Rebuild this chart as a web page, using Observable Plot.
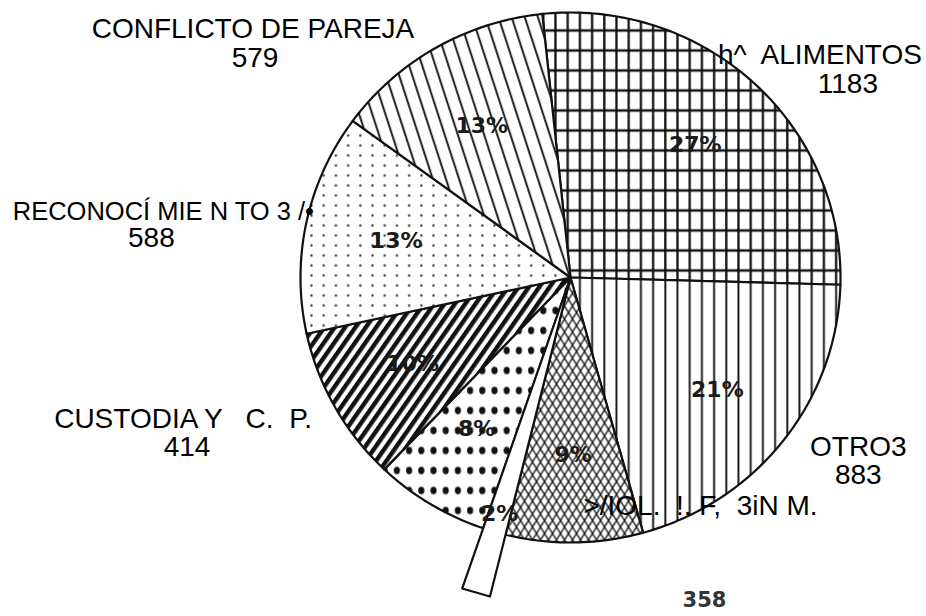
<!DOCTYPE html>
<html><head><meta charset="utf-8">
<script src="https://cdn.jsdelivr.net/npm/d3@7"></script>
<script src="https://cdn.jsdelivr.net/npm/@observablehq/plot@0.6"></script>
<style>
body{margin:0;background:#fff}
svg{display:block}
svg text{white-space:pre}
</style>
</head><body><div id="chart"></div>
<script>
// ---- data ----
const categories = ["ALIMENTOS","OTROS","VIOL. F. SIN M.","SIN ETIQUETA 2%","SIN ETIQUETA 8%","CUSTODIA Y C. P.","RECONOCIMIENTOS","CONFLICTO DE PAREJA"];
const values = [1183, 883, 358, 60, 300, 414, 588, 579];
const percentLabels = ["27%","21%","9%","2%","8%","10%","13%","13%"];
const nameLabels = ["h^  ALIMENTOS","OTRO3",">/IOL.  !. F,  3iN M.","","","CUSTODIA Y   C.  P.","RECONOCÍ MIE N TO 3 /•","CONFLICTO DE PAREJA"];
const valueLabels = ["1183","883","358","","","414","588","579"];
const patternIds = ["p-grid","p-vert","p-cross","p-white","p-bigdots","p-diag","p-smalldots","p-slant"];

// ---- layout ----
const W = 926, H = 616;
const layout = {cx: 570, cy: 277, rx: 270, ry: 265, startDeg: -6};
const outerR = [1,1,1,1.24,1,1,1,1];
const pctR = [0.68,0.69,0.67,0.93,0.67,0.67,0.66,0.66];
const nameOffset = [[66,-28],[75,6],[126,-36],null,null,[-152,12],[-143,-11],[-183,-19]];
const valueOffset = [[94,1],[75,34],[130,58],null,null,[-148,40],[-155,16],[-181,10]];
const nameSize = [28,28,28,28,28,28,25.5,28];

const start = layout.startDeg * Math.PI / 180;
const arcs = d3.pie().sort(null).value(d => d).startAngle(start).endAngle(start + 2 * Math.PI)(values);
const slices = arcs.map((a, i) => ({
  i, name: categories[i], a0: a.startAngle, a1: a.endAngle,
  mid: (a.startAngle + a.endAngle) / 2, r: outerR[i]
}));

const ordered = [...slices.filter(s => s.r <= 1), ...slices.filter(s => s.r > 1)];
const vertices = ordered.flatMap(s => {
  const pts = [{name: s.name, x: 0, y: 0}];
  const n = s.r > 1 ? 1 : Math.max(2, Math.ceil((s.a1 - s.a0) / (Math.PI / 180)));
  for (let k = 0; k <= n; k++) {
    const a = s.a0 + (s.a1 - s.a0) * k / n;
    pts.push({name: s.name, x: s.r * Math.sin(a), y: s.r * Math.cos(a)});
  }
  return pts;
});

const pctData = slices.map(s => ({
  x: pctR[s.i] * Math.sin(s.mid), y: pctR[s.i] * Math.cos(s.mid), text: percentLabels[s.i]
}));
function offsetLabels(texts, offs) {
  return slices.filter(s => offs[s.i] && texts[s.i]).map(s => ({
    x: Math.sin(s.mid) + offs[s.i][0] / layout.rx,
    y: Math.cos(s.mid) - offs[s.i][1] / layout.ry,
    text: texts[s.i], size: nameSize[s.i], scan: texts[s.i] === "358"
  }));
}
const nameData = offsetLabels(nameLabels, nameOffset);
const valueData = offsetLabels(valueLabels, valueOffset);

function patternDefs() {
  const ns = "http://www.w3.org/2000/svg";
  const g = document.createElementNS(ns, "g");
  g.innerHTML = `<defs>
  <pattern id="p-grid" patternUnits="userSpaceOnUse" width="12.2" height="20">
    <rect width="12.2" height="20" fill="#fff"/>
    <path d="M6,0V20" stroke="#111" stroke-width="2.3"/>
    <path d="M0,10H12.2" stroke="#111" stroke-width="2.5"/>
  </pattern>
  <pattern id="p-vert" patternUnits="userSpaceOnUse" width="12.2" height="20">
    <rect width="12.2" height="20" fill="#fff"/>
    <path d="M6,0V20" stroke="#111" stroke-width="1.9"/>
  </pattern>
  <pattern id="p-cross" patternUnits="userSpaceOnUse" width="8" height="13">
    <rect width="8" height="13" fill="#fff"/>
    <path d="M0,0L8,13M8,0L0,13" stroke="#111" stroke-width="1.4" stroke-linecap="square"/>
  </pattern>
  <pattern id="p-white" patternUnits="userSpaceOnUse" width="10" height="10">
    <rect width="10" height="10" fill="#fff"/>
  </pattern>
  <pattern id="p-bigdots" patternUnits="userSpaceOnUse" width="12.2" height="20">
    <rect width="12.2" height="20" fill="#fff"/>
    <ellipse cx="6" cy="10" rx="3.1" ry="3.7" fill="#111"/>
  </pattern>
  <pattern id="p-diag" patternUnits="userSpaceOnUse" width="8.5" height="20" patternTransform="rotate(35)">
    <rect width="8.5" height="20" fill="#fff"/>
    <rect x="0" width="4.4" height="20" fill="#111"/>
  </pattern>
  <pattern id="p-smalldots" patternUnits="userSpaceOnUse" width="12.2" height="10">
    <rect width="12.2" height="10" fill="#fff"/>
    <circle cx="6" cy="5" r="1.2" fill="#333"/>
  </pattern>
  <pattern id="p-slant" patternUnits="userSpaceOnUse" width="12.5" height="20" patternTransform="rotate(-18)">
    <rect width="12.5" height="20" fill="#fff"/>
    <path d="M6,0V20" stroke="#111" stroke-width="1.9"/>
  </pattern>
  </defs>`;
  return g;
}

const chart = Plot.plot({
  width: W, height: H, margin: 0,
  style: {background: "#fff"},
  x: {domain: [-layout.cx / layout.rx, (W - layout.cx) / layout.rx], axis: null},
  y: {domain: [-(H - layout.cy) / layout.ry, layout.cy / layout.ry], axis: null},
  color: {type: "ordinal", domain: categories, range: patternIds.map(id => `url(#${id})`)},
  marks: [
    patternDefs,
    Plot.line(vertices, {x: "x", y: "y", z: "name", fill: "name", stroke: "#111", strokeWidth: 2.2, curve: "linear-closed", strokeLinejoin: "round"}),
    Plot.text(pctData, {x: "x", y: "y", text: "text", fontFamily: "DejaVu Sans", fontWeight: "bold", fontSize: 22, fill: "#1a1a1a"}),
    Plot.text(nameData, {x: "x", y: "y", text: "text", fontFamily: "Liberation Sans", fontSize: "size", fill: "#000"}),
    Plot.text(valueData.filter(d => !d.scan), {x: "x", y: "y", text: "text", fontFamily: "Liberation Sans", fontSize: 28, fill: "#000"}),
    Plot.text(valueData.filter(d => d.scan), {x: "x", y: "y", text: "text", fontFamily: "DejaVu Sans", fontWeight: "bold", fontSize: 21, fill: "#333"})
  ]
});
document.getElementById("chart").appendChild(chart);
</script>
</body></html>
